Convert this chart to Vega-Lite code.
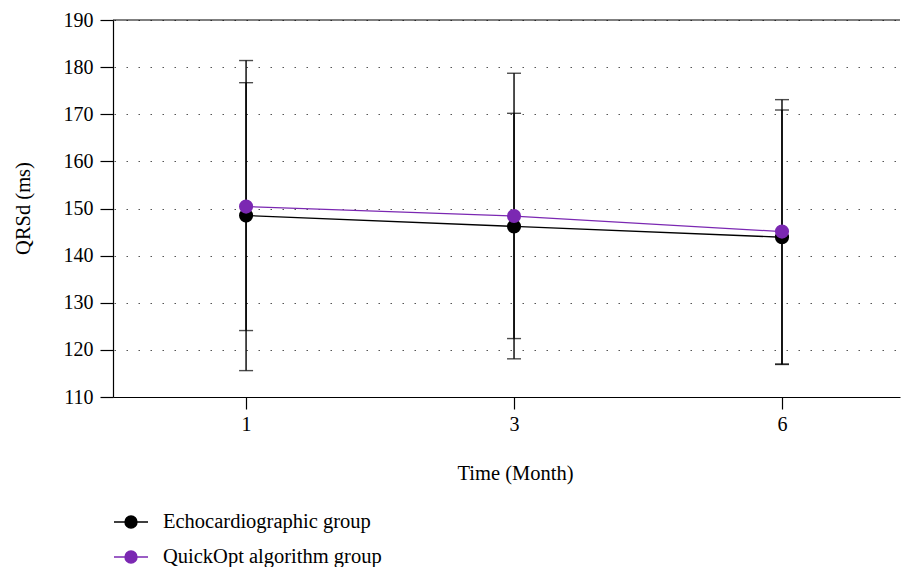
{
  "$schema": "https://vega.github.io/schema/vega-lite/v6.json",
  "width": 787,
  "height": 377,
  "autosize": "none",
  "padding": {"left": 113, "top": 20, "right": 4, "bottom": 170},
  "background": "white",
  "config": {"view": {"stroke": null}, "font": "Liberation Serif"},
  "data": {
    "values": [
      {"group": "Echocardiographic group", "month": "1", "mean": 148.5, "lo": 115.6, "hi": 181.4},
      {"group": "Echocardiographic group", "month": "3", "mean": 146.2, "lo": 122.4, "hi": 170.2},
      {"group": "Echocardiographic group", "month": "6", "mean": 143.9, "lo": 116.9, "hi": 170.9},
      {"group": "QuickOpt algorithm group", "month": "1", "mean": 150.4, "lo": 124.1, "hi": 176.7},
      {"group": "QuickOpt algorithm group", "month": "3", "mean": 148.4, "lo": 118.1, "hi": 178.7},
      {"group": "QuickOpt algorithm group", "month": "6", "mean": 145.1, "lo": 117.0, "hi": 173.1}
    ]
  },
  "layer": [
    {
      "mark": {"type": "rule", "color": "black", "strokeWidth": 1.4},
      "encoding": {
        "x": {
          "field": "month", "type": "ordinal",
          "scale": {"type": "point", "padding": 0.4685, "align": 0.53},
          "axis": {
            "title": "Time (Month)", "labelAngle": 0, "domainColor": "black", "domainWidth": 1.2,
            "tickColor": "black", "tickSize": 12, "tickWidth": 1.2, "labelFontSize": 20, "labelColor": "black",
            "labelPadding": 5, "titleFontSize": 20.5, "titleFontWeight": "normal", "titleColor": "black",
            "titleX": 402, "titleAlign": "center", "titleY": 76, "titleBaseline": "middle", "grid": false,
            "labelFont": "Liberation Serif", "titleFont": "Liberation Serif"
          }
        },
        "y": {
          "field": "lo", "type": "quantitative",
          "scale": {"domain": [110, 190], "nice": false, "zero": false},
          "axis": {
            "title": "QRSd (ms)", "values": [110, 120, 130, 140, 150, 160, 170, 180, 190],
            "domainColor": "black", "domainWidth": 1.2, "tickColor": "black", "tickSize": 13, "tickWidth": 1.2,
            "labelFontSize": 20, "labelColor": "black", "labelPadding": 7,
            "titleFontSize": 20.5, "titleFontWeight": "normal", "titleColor": "black",
            "titleX": -90, "titleY": 188, "titleAngle": -90, "titleAlign": "center", "titleBaseline": "middle",
            "grid": true, "gridDash": [1.5, 10.5], "gridDashOffset": 11, "gridColor": "#555", "gridWidth": 1.2,
            "labelFont": "Liberation Serif", "titleFont": "Liberation Serif"
          }
        },
        "y2": {"field": "hi"}
      }
    },
    {
      "mark": {"type": "tick", "color": "black", "size": 14, "thickness": 1.4, "orient": "horizontal"},
      "encoding": {
        "x": {"field": "month", "type": "ordinal"},
        "y": {"field": "lo", "type": "quantitative", "title": "QRSd (ms)"}
      }
    },
    {
      "mark": {"type": "tick", "color": "black", "size": 14, "thickness": 1.4, "orient": "horizontal"},
      "encoding": {
        "x": {"field": "month", "type": "ordinal"},
        "y": {"field": "hi", "type": "quantitative", "title": "QRSd (ms)"}
      }
    },
    {
      "data": {"values": [{"t": 190}]},
      "mark": {"type": "rule", "color": "black", "strokeWidth": 1.2},
      "encoding": {"y": {"field": "t", "type": "quantitative", "title": "QRSd (ms)"}}
    },
    {
      "mark": {"type": "line", "strokeWidth": 1.3},
      "encoding": {
        "x": {"field": "month", "type": "ordinal"},
        "y": {"field": "mean", "type": "quantitative", "title": "QRSd (ms)"},
        "color": {
          "field": "group", "type": "nominal",
          "scale": {"domain": ["Echocardiographic group", "QuickOpt algorithm group"], "range": ["#000000", "#7b28b2"]},
          "legend": {
            "title": null, "orient": "none", "legendX": 0, "legendY": 484, "direction": "vertical",
            "symbolType": "M-1,0H1M-0.35,0A0.35,0.35,0,1,1,0.35,0A0.35,0.35,0,1,1,-0.35,0Z",
            "symbolSize": 1156, "symbolStrokeWidth": 1.5, "labelFontSize": 20.5, "labelColor": "black",
            "labelOffset": 14, "rowPadding": 6, "padding": 0, "labelFont": "Liberation Serif", "symbolOpacity": 1,
            "labelLimit": 400,
            "encode": {"symbols": {"update": {"stroke": {"scale": "color", "field": "value"}, "fill": {"scale": "color", "field": "value"}}}}
          }
        }
      }
    },
    {
      "mark": {"type": "circle", "size": 200, "opacity": 1},
      "encoding": {
        "x": {"field": "month", "type": "ordinal"},
        "y": {"field": "mean", "type": "quantitative", "title": "QRSd (ms)"},
        "color": {
          "field": "group", "type": "nominal",
          "legend": {
            "title": null, "orient": "none", "legendX": 0, "legendY": 484, "direction": "vertical",
            "symbolType": "M-1,0H1M-0.35,0A0.35,0.35,0,1,1,0.35,0A0.35,0.35,0,1,1,-0.35,0Z",
            "symbolSize": 1156, "symbolStrokeWidth": 1.5, "labelFontSize": 20.5, "labelColor": "black",
            "labelOffset": 14, "rowPadding": 6, "padding": 0, "labelFont": "Liberation Serif", "symbolOpacity": 1,
            "labelLimit": 400,
            "encode": {"symbols": {"update": {"stroke": {"scale": "color", "field": "value"}, "fill": {"scale": "color", "field": "value"}}}}
          }
        }
      }
    }
  ]
}
